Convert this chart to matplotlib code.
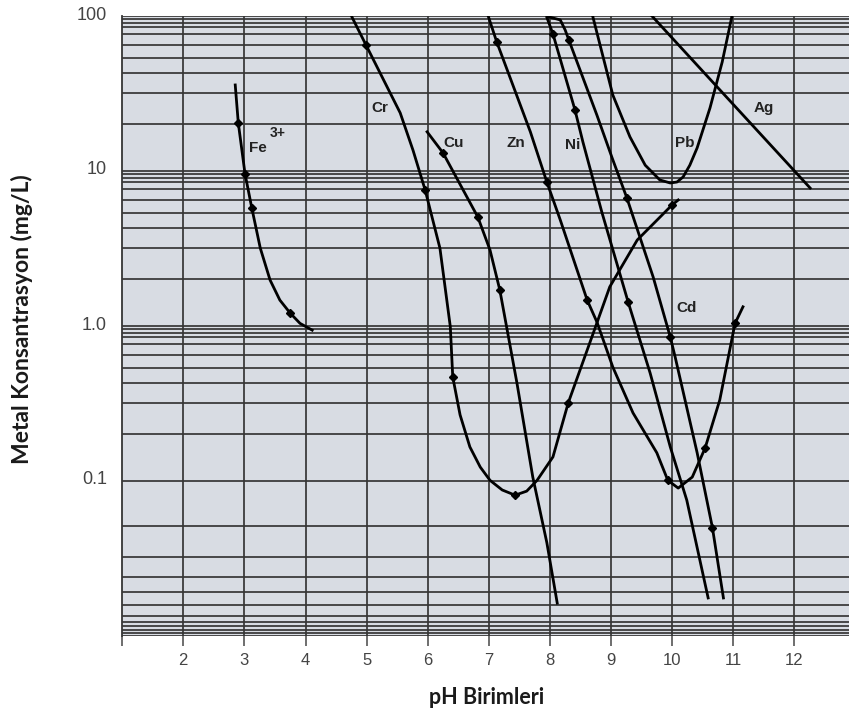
import matplotlib
matplotlib.use("Agg")
import matplotlib.pyplot as plt
from matplotlib.transforms import ScaledTranslation
from matplotlib.ticker import NullLocator

# ---------------- data ----------------
fe_ph = [2.85, 2.90, 3.01, 3.12, 3.26, 3.42, 3.58, 3.75, 3.91, 4.11]
fe_c = [35.9, 20.4, 9.6, 5.8, 3.18, 1.98, 1.47, 1.21, 1.04, 0.94]
fe_mk = [1, 2, 3, 7]

cr_ph = [4.76, 4.99, 5.55, 5.76, 5.96, 6.20, 6.37, 6.41, 6.53, 6.69, 6.86, 7.02, 7.22, 7.43,
         7.62, 7.79, 8.05, 8.30, 8.71, 8.98, 9.43, 10.00, 10.10]
cr_c = [98.5, 65, 23.7, 13.6, 7.5, 3.18, 0.99, 0.469, 0.267, 0.166, 0.123, 0.101, 0.0875, 0.081,
        0.086, 0.101, 0.143, 0.319, 0.90, 1.79, 3.59, 6.04, 6.5]
cr_mk = [1, 4, 7, 13, 17, 21]

cu_ph = [5.99, 6.25, 6.82, 7.02, 7.18, 7.46, 7.72, 7.95, 8.12]
cu_c = [17.9, 13.1, 5.05, 3.09, 1.71, 0.43, 0.106, 0.040, 0.0163]
cu_mk = [1, 2, 4]

zn_ph = [6.99, 7.13, 7.68, 7.95, 8.17, 8.61, 8.77, 9.03, 9.36, 9.75, 9.93, 10.10, 10.33, 10.54, 10.78, 11.03, 11.16]
zn_c = [100, 68, 17.9, 8.49, 4.83, 1.47, 1.06, 0.543, 0.275, 0.152, 0.101, 0.090, 0.106, 0.163, 0.333, 1.04, 1.33]
zn_mk = [1, 3, 5, 10, 13, 15]

ni_ph = [7.95, 8.05, 8.41, 8.54, 8.85, 9.28, 9.64, 9.97, 10.24, 10.59]
ni_c = [98, 76.6, 24.8, 15.4, 5.43, 1.43, 0.498, 0.166, 0.0753, 0.0176]
ni_mk = [1, 2, 5]

cd_ph = [7.99, 8.17, 8.25, 8.31, 8.77, 9.02, 9.26, 9.69, 9.97, 10.05, 10.41, 10.66, 10.84]
cd_c = [98.5, 94.3, 81.2, 70.0, 22.9, 12.1, 6.70, 2.07, 0.849, 0.631, 0.152, 0.050, 0.0176]
cd_mk = [3, 6, 8, 11]

pb_ph = [8.70, 8.85, 9.03, 9.31, 9.56, 9.67, 9.80, 9.97, 10.08, 10.18, 10.29, 10.41, 10.62, 10.82, 10.98]
pb_c = [100, 58.6, 30.9, 16.6, 10.9, 9.86, 8.75, 8.37, 8.49, 9.15, 10.9, 14.1, 25.5, 50.5, 100]

ag_ph = [9.67, 12.26]
ag_c = [100, 7.76]

label_names = ["Fe", "3+", "Cr", "Cu", "Zn", "Ni", "Pb", "Ag", "Cd"]
label_ph = [3.22, 3.55, 5.22, 6.43, 7.45, 8.38, 10.20, 11.50, 10.23]
label_c = [14.1, 17.6, 25.5, 15.2, 15.2, 14.7, 15.2, 25.5, 1.31]

x_ticks = [1, 2, 3, 4, 5, 6, 7, 8, 9, 10, 11, 12]
x_ticklabels = ["", "2", "3", "4", "5", "6", "7", "8", "9", "10", "11", "12"]
y_ticks = [100, 10, 1, 0.1]
y_ticklabels = ["100", "10", "1.0", "0.1"]

# ---------------- figure ----------------
W, H = 849, 715
fig = plt.figure(figsize=(W / 100, H / 100), dpi=100)
ax = fig.add_axes([122.2 / W, (H - 636) / H, 1 - 122.2 / W, 620 / H])
ax.set_facecolor("#d8dce3")
ax.set_yscale("log")
ax.set_xlim(1, 1 + (W - 122.2) / 61.1)
ax.set_ylim(0.01, 100)

gcol = "#363636"
# grid of the (hand-drawn style) log paper
dec_off = [0, 3, 6.5, 10.5, 18, 29, 42, 57, 77, 108]
for top in [100, 10, 1]:
    for o in dec_off:
        ax.axhline(top * 10 ** (-o / 155), color=gcol, lw=1.25, zorder=1)
bot_off = [0, 3, 6, 10, 14, 20, 31, 44, 59, 79, 110]
for o in bot_off:
    ax.axhline(0.01 * 10 ** (o / 155), color=gcol, lw=1.25, zorder=1)
ax.axhline(0.1, color=gcol, lw=1.25, zorder=1)
for xv in x_ticks[1:]:
    ax.axvline(xv, color=gcol, lw=1.25, zorder=1)

for s in ["top", "right", "bottom"]:
    ax.spines[s].set_visible(False)
ax.spines["left"].set_color(gcol)
ax.spines["left"].set_linewidth(1.3)


def curve(px, cy, mk=None):
    ax.plot(px, cy, color="black", lw=2.0, zorder=3, solid_joinstyle="round")
    if mk:
        ax.plot([px[i] for i in mk], [cy[i] for i in mk], ls="none", marker="D",
                ms=3.8, color="black", zorder=4)


curve(fe_ph, fe_c, fe_mk)
curve(cr_ph, cr_c, cr_mk)
curve(cu_ph, cu_c, cu_mk)
curve(zn_ph, zn_c, zn_mk)
curve(ni_ph, ni_c, ni_mk)
curve(cd_ph, cd_c, cd_mk)
curve(pb_ph, pb_c)
curve(ag_ph, ag_c)

for name, xv, yv in zip(label_names, label_ph, label_c):
    ax.text(xv, yv, name, ha="center", va="center", fontsize=11 if name != "3+" else 10,
            fontweight="bold", family="Liberation Sans", color="#222222", zorder=5)

# ticks
ax.set_xticks(x_ticks)
ax.set_xticklabels(x_ticklabels, fontsize=12, family="Liberation Sans", color="#444444")
ax.tick_params(axis="x", length=7, width=1.2, color="#555555", pad=5.5)
ax.set_yticks(y_ticks)
ax.set_yticklabels(y_ticklabels, fontsize=13, family="Liberation Sans", color="#444444")
ax.yaxis.set_minor_locator(NullLocator())
ax.tick_params(axis="y", length=0, pad=11)
for lab in ax.get_yticklabels():
    lab.set_transform(lab.get_transform() + ScaledTranslation(0, 0.03, fig.dpi_scale_trans))

fig.text(487 / W, 1 - 697 / H, "pH Birimleri", ha="center", va="center",
         fontsize=15.5, fontweight="bold", family="Lato", color="#1a1a1a")
fig.text(22 / W, 1 - 319 / H, "Metal Konsantrasyon (mg/L)", ha="center", va="center",
         rotation=90, fontsize=16.5, fontweight="bold", family="Lato", color="#1a1a1a")

fig.savefig("out.png", dpi=100)
